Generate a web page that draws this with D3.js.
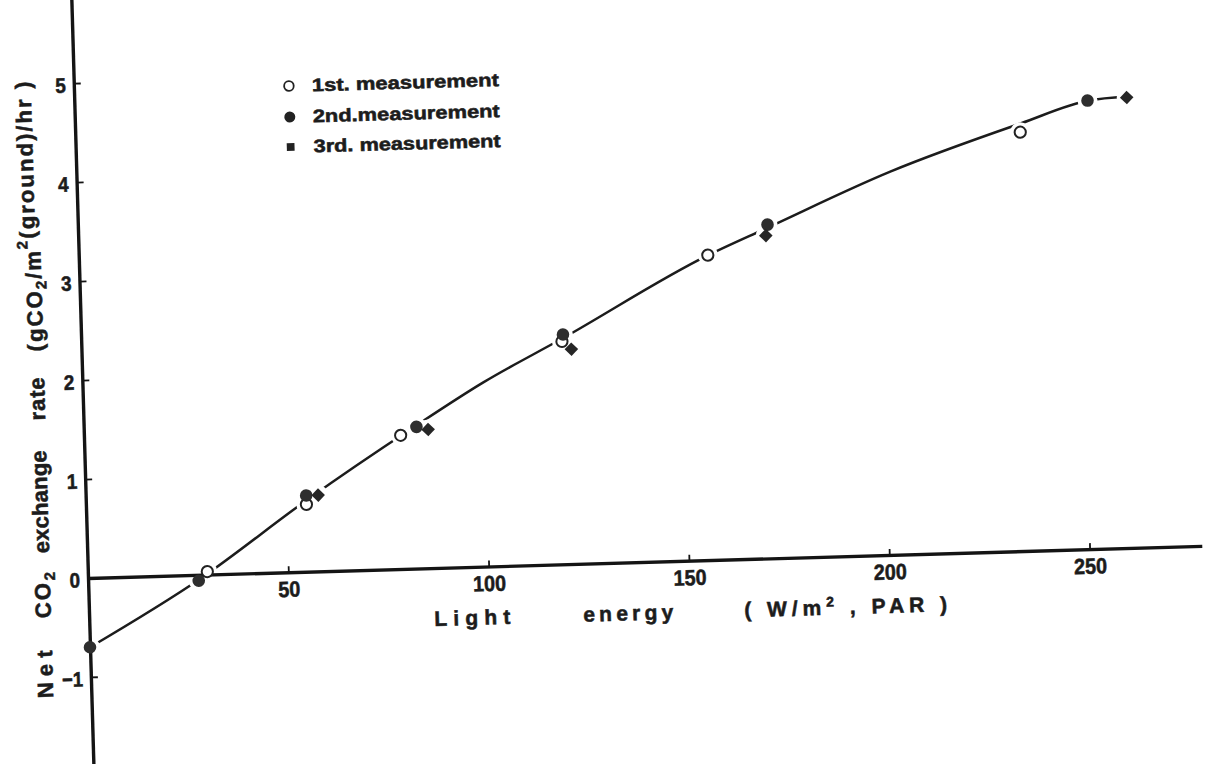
<!DOCTYPE html>
<html><head><meta charset="utf-8">
<script src="https://cdn.jsdelivr.net/npm/d3@7"></script>
<style>
body{margin:0;background:#fff}
svg{display:block}
text{font-family:"Liberation Sans",Arial,Helvetica,sans-serif;font-weight:bold;fill:#1c1c1c;stroke:#1c1c1c;stroke-width:0.55px}
</style>
</head><body>
<svg id="chart" width="1215" height="764"></svg>
<script>
// ---- data ----
const xTicks = [50, 100, 150, 200, 250];
const yTicks = [-1, 0, 1, 2, 3, 4, 5];
const firstMeasurement  = [[29.8, 0.03], [55.0, 0.68], [79.0, 1.35], [119.9, 2.25], [156.9, 3.08], [235.7, 4.23]];
const secondMeasurement = [[0, -0.70], [27.6, -0.06], [55.0, 0.77], [83.0, 1.43], [120.2, 2.32], [172.0, 3.37], [252.7, 4.53]];
const thirdMeasurement  = [[58.0, 0.77], [85.9, 1.40], [122.2, 2.17], [171.5, 3.26], [262.5, 4.55]];
const fitCurve = [[0, -0.70], [28, -0.04], [55, 0.72], [82, 1.42], [100, 1.86], [120, 2.28], [157, 3.08], [172, 3.34], [203, 3.87], [236, 4.32], [253, 4.53], [262.5, 4.56]];
const legendLabels = ["1st. measurement", "2nd.measurement", "3rd. measurement"];
const xDomain = [0, 278];
const yDomain = [-1.95, 5.95];

// ---- drawing ----
const svg = d3.select("#chart");
svg.append("rect").attr("width", 1215).attr("height", 764).attr("fill", "#fff");

const pxX = 1002 / 250, pxY = 99;
const x = d3.scaleLinear().domain(xDomain).range([xDomain[0] * pxX, xDomain[1] * pxX]);
const y = d3.scaleLinear().domain(yDomain).range([-yDomain[0] * pxY, -yDomain[1] * pxY]);

// the scanned figure is slightly tilted
const g = svg.append("g").attr("transform", "translate(88,578) rotate(-1.65)");

// fitted curve
g.append("path")
  .datum(fitCurve)
  .attr("fill", "none")
  .attr("stroke", "#1c1c1c")
  .attr("stroke-width", 2.5)
  .attr("d", d3.line().x(d => x(d[0])).y(d => y(d[1])).curve(d3.curveMonotoneX));

// white gaps around markers (the line is interrupted near the symbols)
const allPts = firstMeasurement.concat(secondMeasurement, thirdMeasurement);
g.selectAll("circle.halo").data(allPts).enter().append("circle")
  .attr("class", "halo")
  .attr("cx", d => x(d[0])).attr("cy", d => y(d[1])).attr("r", 10).attr("fill", "#fff");

// axes
const xAxis = g.append("g").call(
  d3.axisBottom(x).tickValues(xTicks).tickSize(-6).tickSizeOuter(0).tickPadding(9));
const yAxis = g.append("g").call(
  d3.axisLeft(y).tickValues(yTicks).tickSize(-7).tickSizeOuter(0).tickPadding(8)
    .tickFormat(d => d < 0 ? "\u2212" + Math.abs(d) : String(d)));
[xAxis, yAxis].forEach(a => {
  a.select(".domain").attr("stroke", "#141414").attr("stroke-width", 3.4);
  a.selectAll(".tick line").attr("stroke", "#141414").attr("stroke-width", 1.8);
});
xAxis.selectAll(".tick text").style("font-size", "22px").attr("fill", "#1c1c1c")
  .attr("textLength", d => String(d).length * 11).attr("lengthAdjust", "spacingAndGlyphs");
yAxis.selectAll(".tick text").style("font-size", "21px").attr("fill", "#1c1c1c").attr("dy", "0.42em")
  .attr("textLength", d => (d < 0 ? 2 : 1) * 10.5).attr("lengthAdjust", "spacingAndGlyphs");

// markers
const sym = d3.symbol().type(d3.symbolSquare).size(92);
g.selectAll("circle.first").data(firstMeasurement).enter().append("circle")
  .attr("cx", d => x(d[0])).attr("cy", d => y(d[1])).attr("r", 5.6)
  .attr("fill", "#fff").attr("stroke", "#222").attr("stroke-width", 2);
g.selectAll("circle.second").data(secondMeasurement).enter().append("circle")
  .attr("cx", d => x(d[0])).attr("cy", d => y(d[1])).attr("r", 6.3)
  .attr("fill", "#2e2e2e");
g.selectAll("path.third").data(thirdMeasurement).enter().append("path")
  .attr("d", sym)
  .attr("transform", d => `translate(${x(d[0])},${y(d[1])}) rotate(45)`)
  .attr("fill", "#262626");

// legend
const legRows = [-486, -455, -425];
const leg = g.append("g").attr("transform", "translate(215,0)");
leg.append("circle").attr("cx", 0).attr("cy", legRows[0]).attr("r", 4.8)
  .attr("fill", "#fff").attr("stroke", "#222").attr("stroke-width", 1.8);
leg.append("circle").attr("cx", 0).attr("cy", legRows[1]).attr("r", 5.5).attr("fill", "#222");
leg.append("path").attr("d", d3.symbol().type(d3.symbolSquare).size(60))
  .attr("transform", `translate(0,${legRows[2]})`).attr("fill", "#222");
leg.selectAll("text.leg").data(legendLabels).enter().append("text")
  .attr("x", 23).attr("y", (d, i) => legRows[i] + 6)
  .attr("textLength", 187)
  .attr("lengthAdjust", "spacingAndGlyphs")
  .style("font-size", "18px")
  .text(d => d);

// x axis title
const xt = [
  {t: "Light", x0: 345, w: 76},
  {t: "energy", x0: 494, w: 90}
];
g.selectAll("text.xt").data(xt).enter().append("text")
  .attr("x", d => d.x0).attr("y", 58).attr("textLength", d => d.w)
  .attr("lengthAdjust", "spacing").style("font-size", "21px").text(d => d.t);
const unit = g.append("text").attr("x", 655).attr("y", 58).style("font-size", "21px")
  .attr("textLength", 203).attr("lengthAdjust", "spacing");
unit.append("tspan").text("( W/m");
unit.append("tspan").attr("dy", -8).style("font-size", "14px").text("2");
unit.append("tspan").attr("dy", 8).text(" , PAR )");

// y axis title (words stacked along the axis, drawn in the tilted frame)
const yWords = [
  {parts: [["Net"]], y0: 119, len: 48},
  {parts: [["CO"], ["2", "sub"]], y0: 39, len: 46},
  {parts: [["exchange"]], y0: -26, len: 103},
  {parts: [["rate"]], y0: -159, len: 43},
  {parts: [["(gCO"], ["2", "sub"], ["/m"], ["2", "sup"], ["(ground)/hr )"]], y0: -228, len: 270}
];
yWords.forEach(w => {
  const t = g.append("text")
    .attr("transform", `translate(-46,${w.y0}) rotate(-90)`)
    .attr("dy", "0.36em").style("font-size", "22px")
    .attr("textLength", w.len).attr("lengthAdjust", "spacing");
  let prevKind = null;
  w.parts.forEach(p => {
    const s = t.append("tspan").text(p[0]);
    if (p[1] === "sub") s.attr("dy", 5).style("font-size", "15px");
    else if (p[1] === "sup") s.attr("dy", -13).style("font-size", "15px");
    else if (prevKind === "sub") s.attr("dy", -5);
    else if (prevKind === "sup") s.attr("dy", 8);
    prevKind = p[1] || null;
  });
});
</script>
</body></html>
